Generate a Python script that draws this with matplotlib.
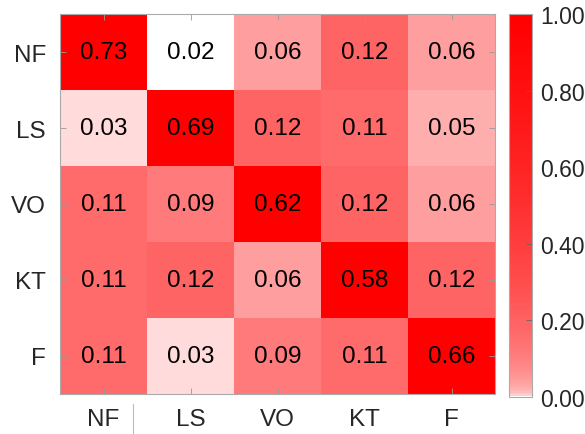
import numpy as np
import matplotlib
matplotlib.use("Agg")
import matplotlib.pyplot as plt
from matplotlib.colors import LinearSegmentedColormap, ListedColormap, LogNorm, Normalize
from matplotlib.cm import ScalarMappable
from matplotlib.lines import Line2D

labels = ['NF', 'LS', 'VO', 'KT', 'F']
row_NF = [0.73, 0.02, 0.06, 0.12, 0.06]
row_LS = [0.03, 0.69, 0.12, 0.11, 0.05]
row_VO = [0.11, 0.09, 0.62, 0.12, 0.06]
row_KT = [0.11, 0.12, 0.06, 0.58, 0.12]
row_F = [0.11, 0.03, 0.09, 0.11, 0.66]
cbar_ticks = [0.0, 0.2, 0.4, 0.6, 0.8, 1.0]

M = np.array([row_NF, row_LS, row_VO, row_KT, row_F])

plt.rcParams['font.family'] = ['Liberation Sans', 'DejaVu Sans']

base = LinearSegmentedColormap.from_list('wr', ['#ffffff', '#ff0000'])
# colormap used for cells (slightly red-shifted)
cell_cmap = ListedColormap(base(1 - (1 - np.linspace(0, 1, 256)) ** 1.2))
# colormap shown on the colorbar (rapid rise near zero)
bar_cmap = ListedColormap(base(np.linspace(0, 1, 256) ** 0.3))

fig = plt.figure(figsize=(5.85, 4.35), dpi=100)
ax = fig.add_axes([60/585, 1-395/435, 435/585, 380/435])
ax.imshow(M, cmap=cell_cmap, norm=LogNorm(vmin=0.02, vmax=0.55, clip=True),
          aspect='auto', interpolation='nearest')

for i in range(M.shape[0]):
    for j in range(M.shape[1]):
        ax.text(j, i, f'{M[i, j]:.2f}', ha='center', va='center',
                fontsize=17.5, color='black')

ax.set_xticks(range(len(labels)))
ax.set_yticks(range(len(labels)))
ax.set_xticklabels(labels)
ax.set_yticklabels(labels)
ax.tick_params(direction='in', length=4, width=0.6, color='#999999',
               labelsize=17.5, labelcolor='#262626',
               top=True, right=True, pad=10)
for s in ax.spines.values():
    s.set_color('#aaaaaa')
    s.set_linewidth(0.8)

cax = fig.add_axes([509/585, 1-398/435, 23/585, 383/435])
sm = ScalarMappable(norm=Normalize(vmin=0, vmax=1), cmap=bar_cmap)
cb = fig.colorbar(sm, cax=cax, ticks=cbar_ticks)
cb.ax.set_yticklabels([f'{t:.2f}' for t in cbar_ticks])
cb.ax.tick_params(direction='in', length=4, width=0.6, color='#666666',
                  labelsize=16.5, labelcolor='#262626', pad=6)
cb.outline.set_edgecolor('#aaaaaa')
cb.outline.set_linewidth(0.8)

fig.add_artist(Line2D([133/585, 133/585], [0, 1-405/435],
                      color='#bbbbbb', linewidth=0.8))

fig.savefig('out.png', dpi=100)
